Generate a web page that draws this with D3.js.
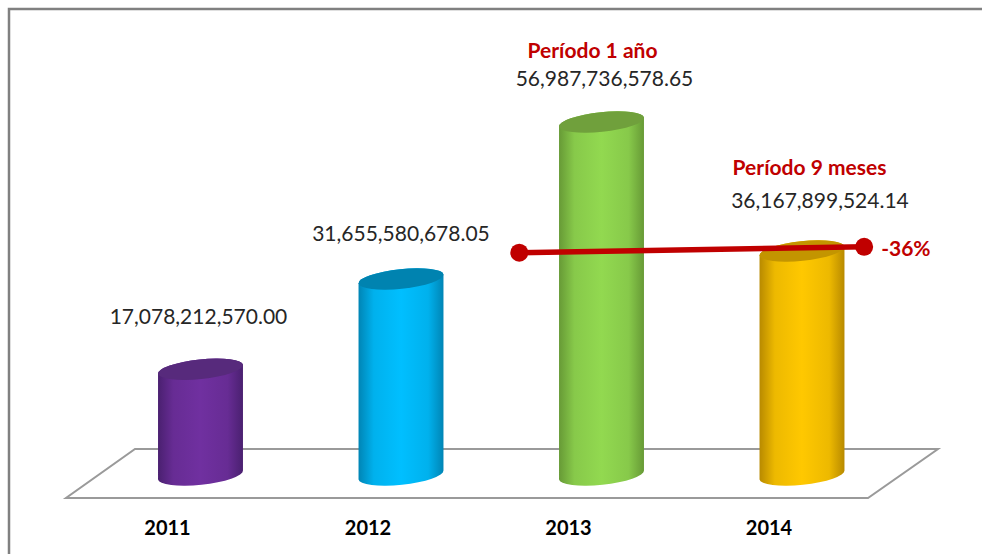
<!DOCTYPE html>
<html><head><meta charset="utf-8">
<script src="https://cdn.jsdelivr.net/npm/d3@7"></script>
<style>html,body{margin:0;padding:0;background:#fff}svg{display:block}</style>
</head><body><svg id="c" width="982" height="554"></svg>
<script>
const years=[2011,2012,2013,2014];
const values=[17078212570.00,31655580678.05,56987736578.65,36167899524.14];
const valueLabels=["17,078,212,570.00","31,655,580,678.05","56,987,736,578.65","36,167,899,524.14"];
const sideColors=["#7030a0","#00bfff","#92d950","#ffc800"];
const edgeColors=["#4a2070","#0085b5","#679a36","#b88a00"];
const topColors=["#572a7c","#0083b0","#70a03c","#c39500"];
const periodLabels=["Período 1 año","Período 9 meses"];
const trendYears=[2012.59,2014.31];
const trendValues=[35.9e9,36.85e9];
const trendLabel="-36%";

const svg=d3.select("#c");
const x=d3.scaleLinear().domain([2011,2014]).range([200.5,802]);
const y=d3.scaleLinear().domain([0,57e9]).range([475,122]);
const rx=42.7,ry=9.8,tilt=-6,dx=rx*Math.cos(tilt*Math.PI/180),dy=rx*Math.sin(tilt*Math.PI/180);
const font="Lato, 'Open Sans', sans-serif";
const red="#c00000";

const defs=svg.append("defs");
sideColors.forEach((c,i)=>{
  const g=defs.append("linearGradient").attr("id","g"+i);
  [[0,edgeColors[i]],[.18,d3.interpolateRgb(edgeColors[i],c)(.75)],[.5,c],[.82,d3.interpolateRgb(edgeColors[i],c)(.75)],[1,edgeColors[i]]]
    .forEach(s=>g.append("stop").attr("offset",s[0]).attr("stop-color",s[1]));
});

// frame
svg.append("path").attr("d",d3.line()([[9,554],[9,9],[982,9]])).attr("fill","none").attr("stroke","#808080").attr("stroke-width",2.5);

// floor
svg.append("path").attr("d",d3.line()([[66,498],[868,498],[938,449],[135,449]])+"Z")
  .attr("fill","#fff").attr("stroke","#9a9a9a").attr("stroke-width",2);

// cylinders
const bars=svg.append("g").selectAll("g").data(years).join("g");
bars.append("path").attr("fill",(d,i)=>`url(#g${i})`).attr("d",(d,i)=>{
  const cx=x(d),t=y(values[i]),b=y(0);
  return `M${cx-dx},${t-dy}L${cx-dx},${b-dy}A${rx},${ry},${tilt},0,0,${cx+dx},${b+dy}L${cx+dx},${t+dy}A${rx},${ry},${tilt},0,0,${cx-dx},${t-dy}Z`;
});
bars.append("ellipse").attr("rx",rx).attr("ry",ry).attr("fill",(d,i)=>topColors[i])
  .attr("transform",(d,i)=>`translate(${x(d)},${y(values[i])}) rotate(${tilt})`);

// axis labels
const axis=d3.axisBottom(x).tickValues(years).tickFormat(d3.format("d")).tickSize(0);
const ax=svg.append("g").attr("transform","translate(-33.5,518)").call(axis);
ax.select(".domain").remove();
ax.selectAll("text").attr("font-family",font).attr("font-weight",700).attr("font-size",20).attr("fill","#000");

// value labels
const labelDx=[-2,0,3,18],labelY=[-45,-38,-36,-43];
svg.append("g").selectAll("text").data(years).join("text")
  .attr("x",(d,i)=>x(d)+labelDx[i]).attr("y",(d,i)=>y(values[i])+labelY[i])
  .attr("text-anchor","middle").attr("font-family",font).attr("font-size",21).attr("fill","#262626")
  .text((d,i)=>valueLabels[i]);

// period labels
svg.append("text").attr("x",x(2013)-9).attr("y",58).attr("text-anchor","middle").attr("font-family",font)
  .attr("font-weight",700).attr("font-size",21).attr("fill",red).text(periodLabels[0]);
svg.append("text").attr("x",x(2014)+7.5).attr("y",175).attr("text-anchor","middle").attr("font-family",font)
  .attr("font-weight",700).attr("font-size",21).attr("fill",red).text(periodLabels[1]);

// trend line
const pts=trendYears.map((d,i)=>[x(d),y(trendValues[i])]);
svg.append("path").attr("d",d3.line()(pts)).attr("stroke",red).attr("stroke-width",5.5).attr("fill","none");
svg.append("g").selectAll("circle").data(pts).join("circle").attr("cx",d=>d[0]).attr("cy",d=>d[1]).attr("r",9).attr("fill",red);
svg.append("text").attr("x",pts[1][0]+17).attr("y",pts[1][1]+9).attr("font-family",font).attr("font-weight",700)
  .attr("font-size",21).attr("fill",red).text(trendLabel);
</script></body></html>
